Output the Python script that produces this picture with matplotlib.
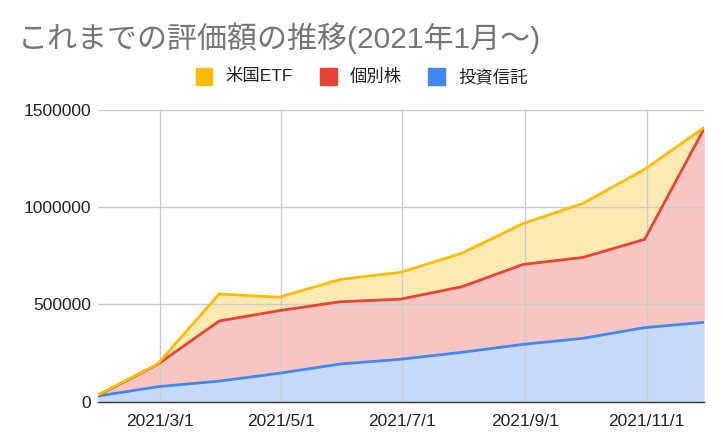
import matplotlib
matplotlib.use("Agg")
import matplotlib.pyplot as plt
import matplotlib.dates as mdates
import numpy as np
from datetime import date

plt.rcParams['font.family'] = ['Noto Sans CJK JP', 'DejaVu Sans']

# ---- data ----
dates = [date(2021, 1, 29), date(2021, 2, 28), date(2021, 3, 31), date(2021, 4, 30),
         date(2021, 5, 31), date(2021, 6, 30), date(2021, 7, 31), date(2021, 8, 31),
         date(2021, 9, 30), date(2021, 10, 31), date(2021, 11, 30)]
toushin = [29000, 77000, 106000, 146000, 194000, 218000, 254000, 295000, 326000, 381000, 408000]
kobetsu = [3000, 115000, 309000, 322000, 320000, 309000, 337000, 411000, 416000, 454000, 998000]
etf = [3000, 2000, 139000, 69000, 115000, 138000, 172000, 211000, 278000, 360000, 4000]
series_names = ['米国ETF', '個別株', '投資信託']
title = 'これまでの評価額の推移(2021年1月～)'
xtick_dates = [date(2021, 3, 1), date(2021, 5, 1), date(2021, 7, 1), date(2021, 9, 1), date(2021, 11, 1)]
xtick_labels = ['2021/3/1', '2021/5/1', '2021/7/1', '2021/9/1', '2021/11/1']
ytick_values = [0, 500000, 1000000, 1500000]
ytick_labels = ['0', '500000', '1000000', '1500000']

c_yellow = '#FBBC04'
c_red = '#EA4335'
c_blue = '#4285F4'
fam = ['Liberation Sans', 'Noto Sans CJK JP', 'DejaVu Sans']

fig = plt.figure(figsize=(7.23, 4.40), dpi=100)
ax = fig.add_axes([98 / 723, 1 - 401.7 / 440, (704.3 - 98) / 723, (401.7 - 110) / 440])

x = mdates.date2num(dates)
b = np.array(toushin, dtype=float)
r = b + np.array(kobetsu, dtype=float)
y = r + np.array(etf, dtype=float)
zero = np.zeros_like(b)

ax.fill_between(x, zero, b, color=c_blue, alpha=0.3, linewidth=0, zorder=2)
ax.fill_between(x, b, r, color=c_red, alpha=0.3, linewidth=0, zorder=2)
ax.fill_between(x, r, y, color=c_yellow, alpha=0.3, linewidth=0, zorder=2)
ax.plot(x, b, color=c_blue, lw=2.0, zorder=4, solid_joinstyle='round')
ax.plot(x, r, color=c_red, lw=2.0, zorder=5, solid_joinstyle='round')
ax.plot(x, y, color=c_yellow, lw=2.0, zorder=6, solid_joinstyle='round')

ax.set_xlim(x[0], x[-1])
ax.set_ylim(0, 1500000)
ax.set_xticks(mdates.date2num(xtick_dates))
ax.set_xticklabels(xtick_labels)
ax.set_yticks(ytick_values)
ax.set_yticklabels(ytick_labels)

for lab in ax.get_xticklabels() + ax.get_yticklabels():
    lab.set_family(fam)
    lab.set_fontsize(12.5)
    lab.set_color('#222222')

ax.tick_params(axis='both', length=0)
ax.tick_params(axis='x', pad=8.5)
ax.tick_params(axis='y', pad=5)
ax.grid(True, color='#CCCCCC', lw=1.0, zorder=3)
ax.set_axisbelow(False)
for s in ['top', 'right', 'left']:
    ax.spines[s].set_visible(False)
ax.spines['bottom'].set_color('#333333')
ax.spines['bottom'].set_linewidth(1.0)
ax.spines['bottom'].set_zorder(7)

fig.text(18 / 723, 1 - 38 / 440, title, fontsize=21.6, color='#757575', va='center', ha='left',
         family=fam)

# legend
leg_items = [(195.5, c_yellow, series_names[0]), (319.5, c_red, series_names[1]), (428, c_blue, series_names[2])]
for px, col, name in leg_items:
    fig.patches.append(plt.Rectangle((px / 723, 1 - 85 / 440), 17 / 723, 17 / 440,
                                     transform=fig.transFigure, color=col, figure=fig))
    fig.text((px + 30) / 723, 1 - 76.5 / 440, name, fontsize=12.5, color='#222222', va='center', ha='left',
             family=fam)

fig.savefig('out.png', dpi=100)
